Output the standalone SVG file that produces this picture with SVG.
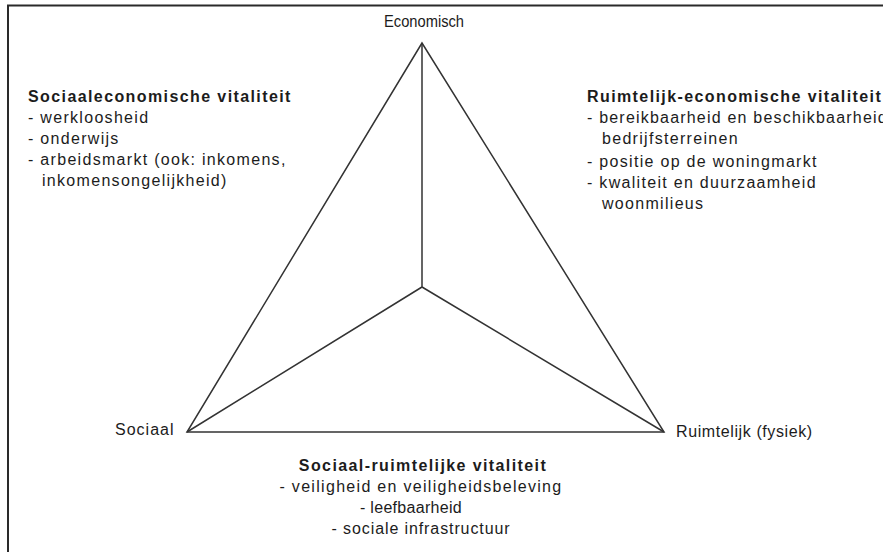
<svg xmlns="http://www.w3.org/2000/svg" width="883" height="552" viewBox="0 0 883 552">
<style>
text{font-family:"Liberation Sans",Arial,Helvetica,sans-serif;fill:#1c1c1c;font-size:16px}
.t{font-weight:bold;letter-spacing:1.4px}
.b{letter-spacing:1.3px}
.v{letter-spacing:0.6px}
.m{text-anchor:middle}
.ln{fill:none;stroke:#333;stroke-width:1.5;stroke-linejoin:miter}
.frame{fill:none;stroke:#2a2a2a;stroke-width:2}
</style>
<rect width="883" height="552" fill="#fff"/>
<path class="frame" d="M8 552V5.5H883"/>
<g id="connectors">
<path class="ln" d="M422 43L187 432H664Z"/>
<path class="ln" d="M422 43V287M187 432L422 287L664 432"/>
</g>
<g id="node-economisch"><text x="384" y="27" style="font-size:16.5px" textLength="80" lengthAdjust="spacingAndGlyphs">Economisch</text></g>
<g id="node-sociaal"><text class="v" x="115" y="435" style="letter-spacing:1px">Sociaal</text></g>
<g id="node-ruimtelijk"><text class="v" x="676" y="437">Ruimtelijk (fysiek)</text></g>
<g id="node-sociaaleconomisch">
<text class="t" x="28" y="102">Sociaaleconomische vitaliteit</text>
<text class="b" x="28" y="123">- werkloosheid</text>
<text class="b" x="28" y="144">- onderwijs</text>
<text class="b" x="28" y="165">- arbeidsmarkt (ook: inkomens,</text>
<text class="b" x="42" y="186">inkomensongelijkheid)</text>
</g>
<g id="node-ruimtelijk-economisch">
<text class="t" x="587" y="102">Ruimtelijk-economische vitaliteit</text>
<text class="b" x="587" y="123" style="letter-spacing:1.2px">- bereikbaarheid en beschikbaarheid</text>
<text class="b" x="602" y="144">bedrijfsterreinen</text>
<text class="b" x="587" y="167">- positie op de woningmarkt</text>
<text class="b" x="587" y="188">- kwaliteit en duurzaamheid</text>
<text class="b" x="602" y="209">woonmilieus</text>
</g>
<g id="node-sociaal-ruimtelijk">
<text class="t m" x="423" y="471">Sociaal-ruimtelijke vitaliteit</text>
<text class="b m" x="421" y="492">- veiligheid en veiligheidsbeleving</text>
<text class="m" x="411" y="513" style="letter-spacing:0.3px">- leefbaarheid</text>
<text class="m" x="421" y="534" style="letter-spacing:0.9px">- sociale infrastructuur</text>
</g>
</svg>
